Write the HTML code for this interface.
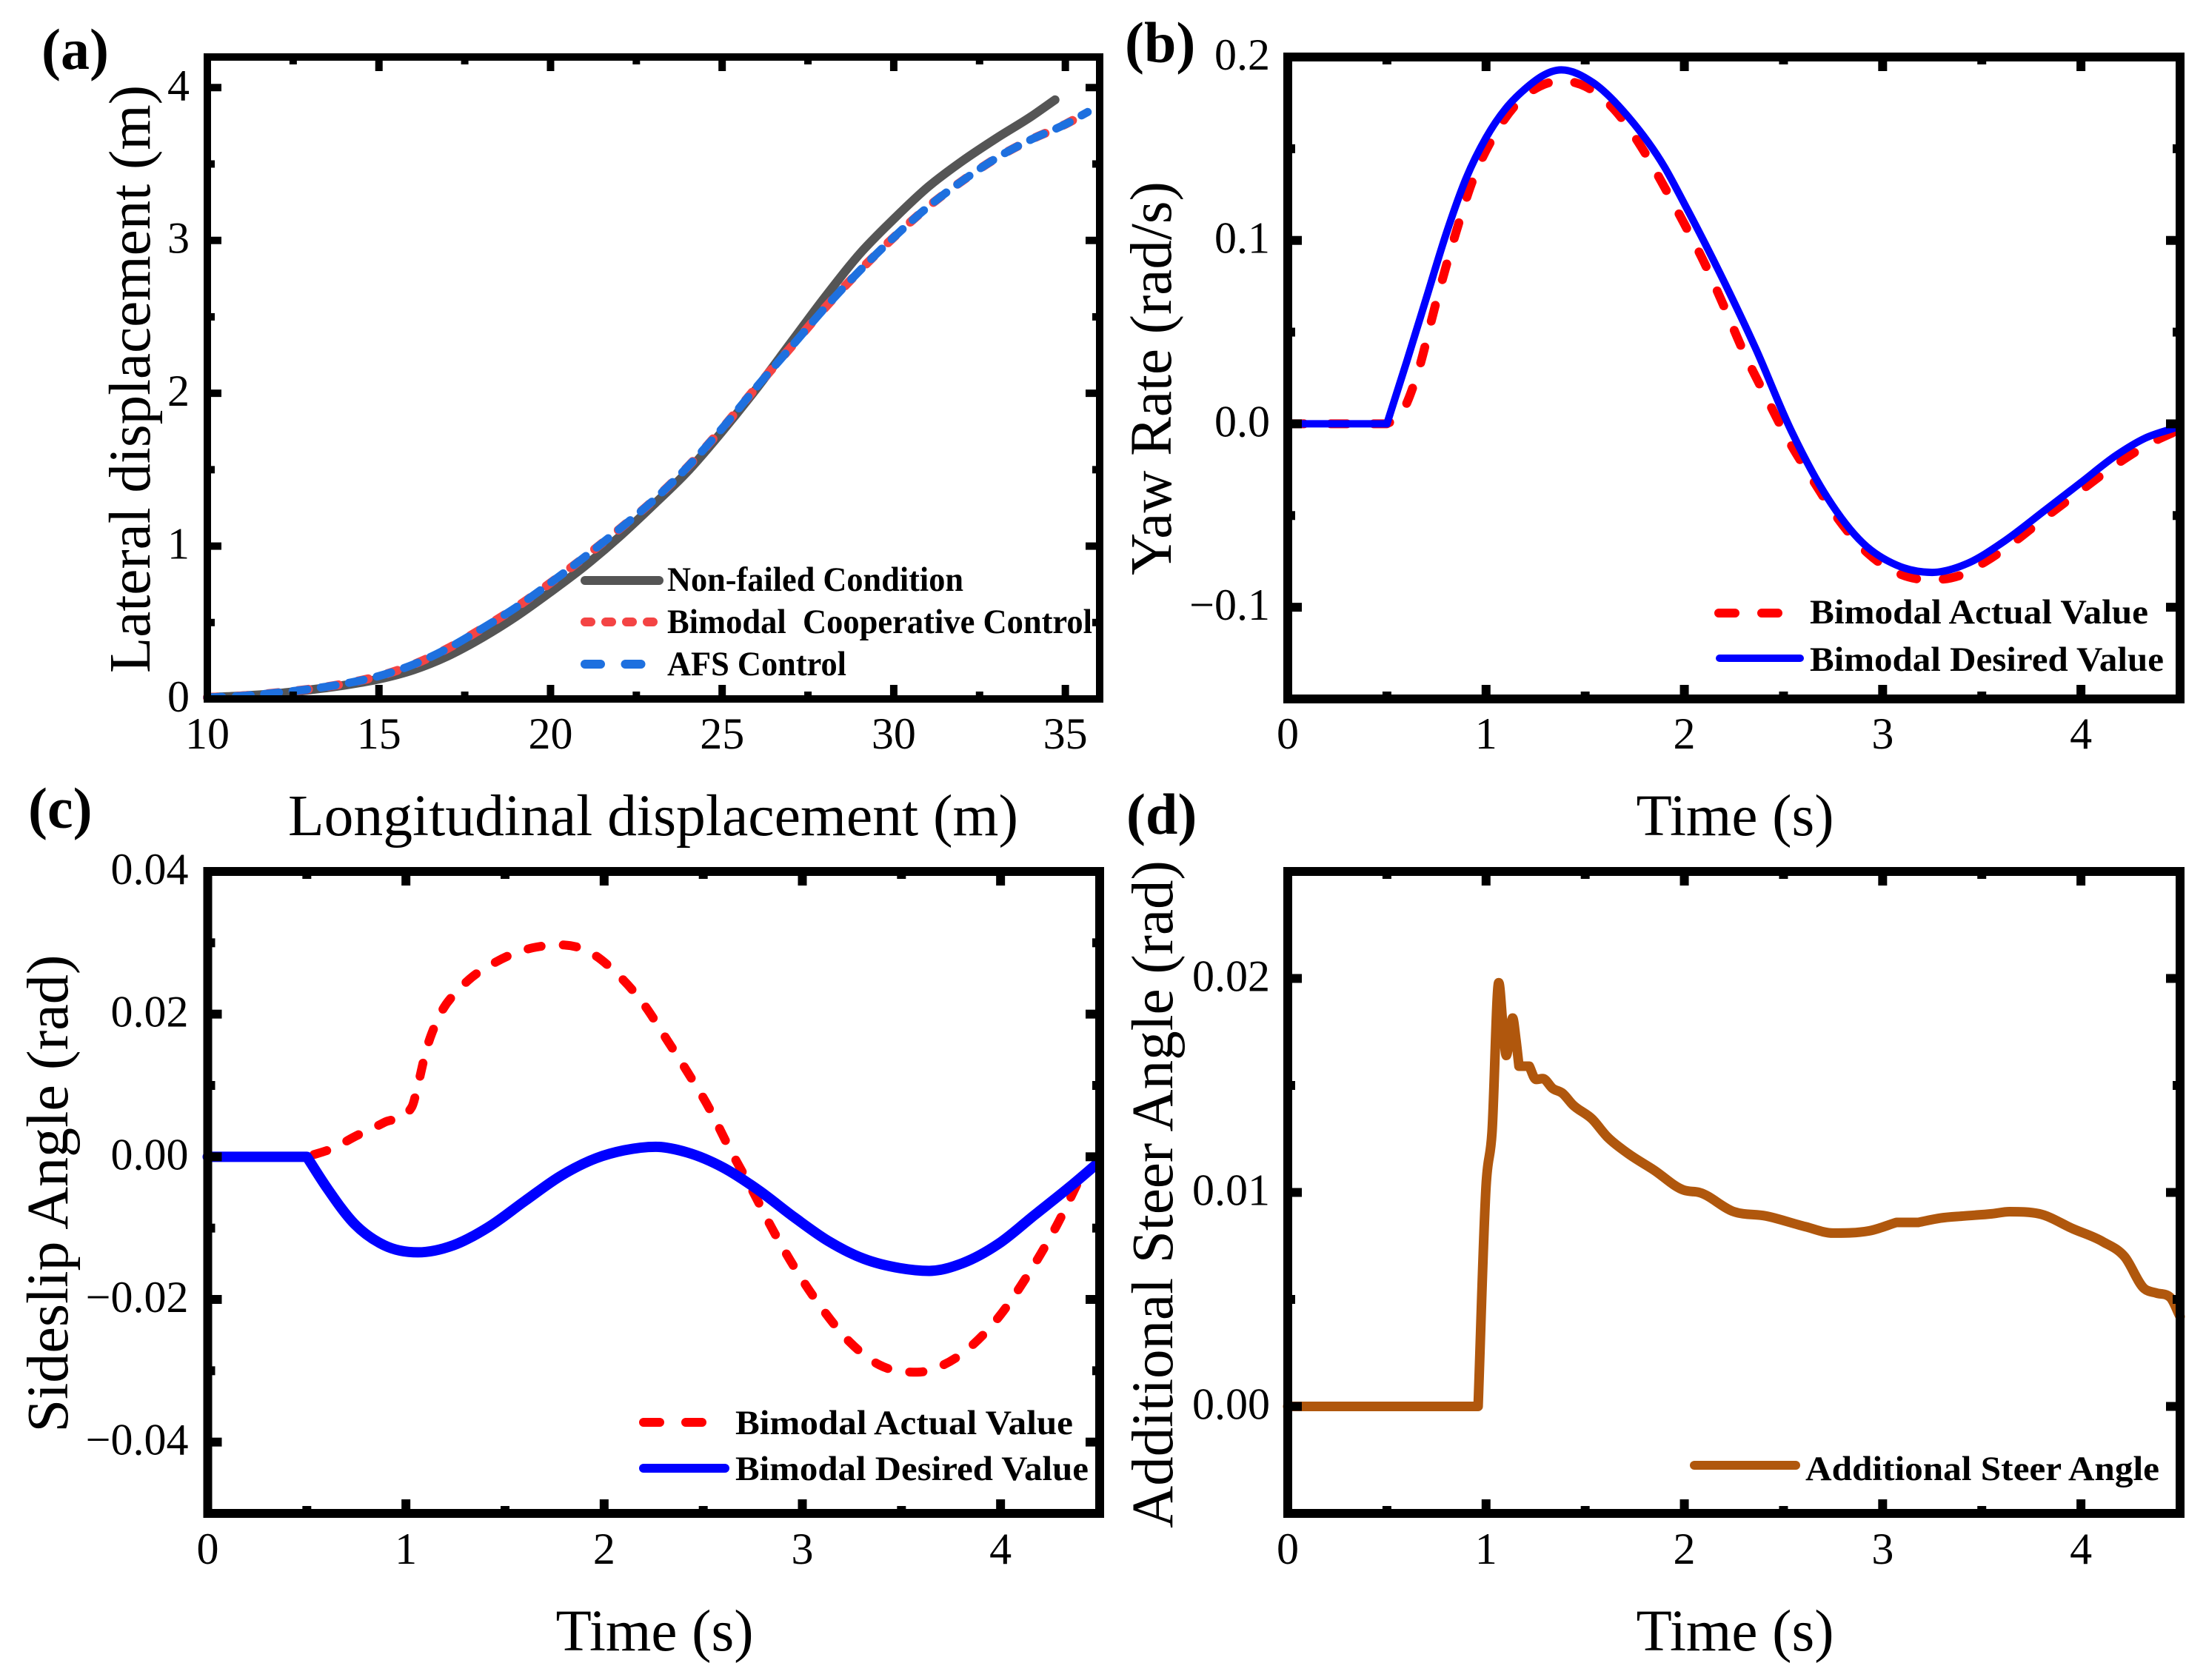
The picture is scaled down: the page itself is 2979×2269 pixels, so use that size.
<!DOCTYPE html>
<html lang="en">
<head>
<meta charset="utf-8">
<title>Bimodal Cooperative Control Results</title>
<style>
html,body{margin:0;padding:0;background:#fff;}
svg{display:block;}
text{font-family:"Liberation Serif",serif;fill:#000;}
.title{font-size:79px;}
.tick{font-size:60px;}
.legend{font-size:47px;font-weight:700;white-space:pre;}
.tag{font-size:78px;font-weight:700;}
</style>
</head>
<body>
<svg id="fig" xmlns="http://www.w3.org/2000/svg" width="2979" height="2269" viewBox="0 0 2979 2269">
<rect x="0" y="0" width="2979" height="2269" fill="#fff"/>
<g id="panel-a"></g>
<g id="panel-b"></g>
<g id="panel-c"></g>
<g id="panel-d"></g>

<text class="tag" x="56" y="93">(a)</text>
<text class="tag" x="1519" y="84">(b)</text>
<text class="tag" x="38" y="1118">(c)</text>
<text class="tag" x="1521" y="1126">(d)</text>

<text class="title" x="882" y="1128" text-anchor="middle" textLength="986" lengthAdjust="spacingAndGlyphs">Longitudinal displacement (m)</text>
<text class="title" x="2343" y="1128" text-anchor="middle">Time (s)</text>
<text class="title" x="884" y="2229" text-anchor="middle">Time (s)</text>
<text class="title" x="2343" y="2229" text-anchor="middle">Time (s)</text>

<text class="title" transform="translate(202 512) rotate(-90)" text-anchor="middle">Lateral displacement (m)</text>
<text class="title" transform="translate(1581 511) rotate(-90)" text-anchor="middle">Yaw Rate (rad/s)</text>
<text class="title" transform="translate(91 1612) rotate(-90)" text-anchor="middle" textLength="645" lengthAdjust="spacingAndGlyphs">Sideslip Angle (rad)</text>
<text class="title" transform="translate(1583 1613) rotate(-90)" text-anchor="middle">Additional Steer Angle (rad)</text>

<g>
<line x1="790" y1="784" x2="890" y2="784" stroke="#555555" stroke-width="12" stroke-linecap="round"/>
<text class="legend" x="901" y="798" textLength="400" lengthAdjust="spacingAndGlyphs">Non-failed Condition</text>
<line x1="790" y1="840" x2="884" y2="840" stroke="#f44444" stroke-width="12" stroke-linecap="round" stroke-dasharray="8 20"/>
<text class="legend" x="901" y="855" textLength="574" lengthAdjust="spacingAndGlyphs">Bimodal  Cooperative Control</text>
<line x1="790" y1="897" x2="866" y2="897" stroke="#1e70df" stroke-width="12" stroke-linecap="round" stroke-dasharray="21 33.5"/>
<text class="legend" x="901" y="912" textLength="242" lengthAdjust="spacingAndGlyphs">AFS Control</text>
</g>

<g>
<line x1="2321" y1="828" x2="2407" y2="828" stroke="#ff0000" stroke-width="12" stroke-linecap="round" stroke-dasharray="22 36"/>
<text class="legend" x="2444" y="842" textLength="457" lengthAdjust="spacingAndGlyphs">Bimodal Actual Value</text>
<line x1="2322" y1="889" x2="2431" y2="889" stroke="#0000ff" stroke-width="10" stroke-linecap="round"/>
<text class="legend" x="2444" y="906" textLength="478" lengthAdjust="spacingAndGlyphs">Bimodal Desired Value</text>
</g>

<g>
<line x1="869" y1="1921" x2="948" y2="1921" stroke="#ff0000" stroke-width="12" stroke-linecap="round" stroke-dasharray="22 35"/>
<text class="legend" x="993" y="1937" textLength="456" lengthAdjust="spacingAndGlyphs">Bimodal Actual Value</text>
<line x1="869" y1="1983" x2="979" y2="1983" stroke="#0000ff" stroke-width="12" stroke-linecap="round"/>
<text class="legend" x="993" y="1999" textLength="477" lengthAdjust="spacingAndGlyphs">Bimodal Desired Value</text>
</g>

<g>
<line x1="2288" y1="1979" x2="2425" y2="1979" stroke="#b0570d" stroke-width="12" stroke-linecap="round"/>
<text class="legend" x="2438" y="1999" textLength="478" lengthAdjust="spacingAndGlyphs">Additional Steer Angle</text>
</g>
</svg>

<script>
// ---------- Panel (a) data ----------
const aXTickLabels = ['10','15','20','25','30','35'];
const aXMinorTicks = [12.5,17.5,22.5,27.5,32.5];
const aYTickLabels = ['0','1','2','3','4'];
const aYMinorTicks = [0.5,1.5,2.5,3.5];
const nonFailedX = [10,11,12,13,14,15,16,17,18,19,20,21,22,23,24,25,26,27,28,29,30,31,32,33,34,34.7];
const nonFailedY = [0.01,0.02,0.035,0.06,0.09,0.13,0.19,0.28,0.40,0.54,0.70,0.87,1.06,1.27,1.49,1.75,2.03,2.33,2.63,2.91,3.14,3.35,3.52,3.67,3.81,3.92];
const cooperativeX = [10,11,12,13,14,15,16,17,18,19,20,21,22,23,24,25,26,27,28,29,30,31,32,33,34,35,35.65];
const cooperativeY = [0.01,0.02,0.04,0.065,0.10,0.15,0.225,0.33,0.46,0.60,0.76,0.93,1.11,1.30,1.52,1.77,2.04,2.30,2.56,2.80,3.02,3.22,3.39,3.54,3.66,3.76,3.84];
const afsX = [10,11,12,13,14,15,16,17,18,19,20,21,22,23,24,25,26,27,28,29,30,31,32,33,34,35,35.65];
const afsY = [0.01,0.02,0.04,0.065,0.10,0.15,0.225,0.33,0.46,0.60,0.76,0.93,1.11,1.30,1.52,1.77,2.04,2.30,2.56,2.80,3.02,3.22,3.39,3.54,3.66,3.76,3.84];

// ---------- Panel (b) data ----------
const bXTickLabels = ['0','1','2','3','4'];
const bXMinorTicks = [0.5,1.5,2.5,3.5];
const bYTickLabels = ['\u22120.1','0.0','0.1','0.2'];
const bYMinorTicks = [-0.05,0.05,0.15];
const yawActualT = [0,0.5,0.57,0.65,0.75,0.85,0.93,1.04,1.15,1.27,1.38,1.5,1.65,1.8,1.9,2,2.1,2.2,2.3,2.42,2.52,2.65,2.77,2.93,3.09,3.23,3.38,3.52,3.68,3.82,3.98,4.18,4.36,4.48];
const yawActualV = [0,0,0.005,0.026,0.067,0.105,0.132,0.157,0.174,0.184,0.187,0.184,0.171,0.148,0.129,0.109,0.088,0.064,0.039,0.013,-0.008,-0.031,-0.051,-0.071,-0.082,-0.085,-0.083,-0.075,-0.063,-0.051,-0.038,-0.022,-0.010,-0.004];
const yawDesiredT = [0,0.5,0.6,0.7,0.8,0.9,1,1.1,1.18,1.38,1.54,1.72,1.9,2,2.18,2.36,2.54,2.72,2.9,3.07,3.25,3.43,3.6,3.82,4,4.18,4.32,4.48];
const yawDesiredV = [0,0,0.034,0.069,0.104,0.134,0.156,0.172,0.181,0.193,0.186,0.167,0.14,0.12,0.082,0.041,-0.004,-0.04,-0.065,-0.077,-0.081,-0.076,-0.065,-0.047,-0.032,-0.017,-0.008,-0.002];

// ---------- Panel (c) data ----------
const cXTickLabels = ['0','1','2','3','4'];
const cXMinorTicks = [0.5,1.5,2.5,3.5];
const cYTickLabels = ['\u22120.04','\u22120.02','0.00','0.02','0.04'];
const cYMinorTicks = [-0.03,-0.01,0.01,0.03];
const slipActualT = [0,0.5,0.64,0.74,0.89,1.03,1.06,1.1,1.17,1.28,1.46,1.64,1.78,1.92,2.06,2.21,2.31,2.42,2.53,2.63,2.74,2.85,2.96,3.1,3.24,3.39,3.58,3.71,3.85,3.99,4.13,4.28,4.42];
const slipActualV = [0,0,0.0013,0.0028,0.0048,0.007,0.01,0.0147,0.0198,0.0238,0.0274,0.0293,0.0297,0.0288,0.0258,0.021,0.0167,0.0119,0.0068,0.0013,-0.0043,-0.0102,-0.0155,-0.0213,-0.026,-0.0292,-0.0302,-0.0292,-0.0266,-0.0225,-0.0169,-0.0098,-0.0019];
const slipDesiredT = [0,0.5,0.6,0.74,0.89,1.06,1.24,1.42,1.6,1.78,1.96,2.1,2.26,2.42,2.6,2.78,2.96,3.13,3.31,3.49,3.64,3.81,3.99,4.17,4.35,4.49];
const slipDesiredV = [0,0,-0.0043,-0.0094,-0.0124,-0.0134,-0.0124,-0.0098,-0.0062,-0.0027,-0.0002,0.0009,0.0014,0.0006,-0.0015,-0.0047,-0.0085,-0.0118,-0.0143,-0.0156,-0.016,-0.0149,-0.0122,-0.0082,-0.0042,-0.0009];

// ---------- Panel (d) data ----------
const dXTickLabels = ['0','1','2','3','4'];
const dXMinorTicks = [0.5,1.5,2.5,3.5];
const dYTickLabels = ['0.00','0.01','0.02'];
const dYMinorTicks = [0.005,0.015];
const steerT = [0,0.94,0.96,1,1.03,1.064,1.085,1.102,1.118,1.134,1.15,1.166,1.218,1.252,1.286,1.336,1.386,1.436,1.536,1.61,1.71,1.846,2,2.075,2.25,2.41,2.61,2.75,2.93,3.07,3.18,3.29,3.41,3.55,3.64,3.79,3.96,4.11,4.22,4.32,4.38,4.45,4.5];
const steerV = [0,0,0,0.0103,0.0128,0.0198,0.0178,0.0164,0.0172,0.01815,0.0172,0.0159,0.0159,0.01528,0.01532,0.01486,0.01463,0.01411,0.01342,0.01261,0.01186,0.01105,0.0101,0.01,0.0091,0.0089,0.0084,0.0081,0.0082,0.0086,0.0086,0.0088,0.0089,0.009,0.0091,0.009,0.0083,0.0077,0.007,0.0055,0.0053,0.0051,0.0042];

// ---------- Helpers ----------
const SVG_NS = 'http://www.w3.org/2000/svg';
function tickValue(label){ return parseFloat(String(label).replace('\u2212','-')); }
function linear(d0,d1,r0,r1){ return v => r0 + (v-d0)/(d1-d0)*(r1-r0); }
function make(tag, attrs, parent){
  const n = document.createElementNS(SVG_NS, tag);
  for (const k in attrs) n.setAttribute(k, attrs[k]);
  parent.appendChild(n);
  return n;
}
// Smooth cubic through the data: weighted tangents, flat at extrema, true corners where a flat run ends.
function curvePath(px, py){
  const n = px.length, h = [], s = [], mL = [], mR = [];
  for (let i=0;i<n-1;i++){ h.push(px[i+1]-px[i]); s.push((py[i+1]-py[i])/h[i]); }
  mR[0] = s[0]; mL[n-1] = s[n-2];
  for (let i=1;i<n-1;i++){
    const a = s[i-1], b = s[i];
    if (a === 0 || b === 0) { mL[i] = a; mR[i] = b; continue; }
    let m = 0;
    if (a*b > 0) {
      m = (h[i]*a + h[i-1]*b)/(h[i-1]+h[i]);
      const lim = 3*Math.min(Math.abs(a),Math.abs(b));
      if (Math.abs(m) > lim) m = Math.sign(m)*lim;
    }
    mL[i] = m; mR[i] = m;
  }
  let d = 'M'+px[0].toFixed(2)+' '+py[0].toFixed(2);
  for (let i=0;i<n-1;i++){
    const t = h[i]/3;
    d += ' C'+(px[i]+t).toFixed(2)+' '+(py[i]+mR[i]*t).toFixed(2)+' '+(px[i+1]-t).toFixed(2)+' '+(py[i+1]-mL[i+1]*t).toFixed(2)+' '+px[i+1].toFixed(2)+' '+py[i+1].toFixed(2);
  }
  return d;
}

function drawSeries(g, sx, sy, xs, ys, name, style){
  const p = make('path', Object.assign({d: curvePath(xs.map(sx), ys.map(sy)), fill:'none', 'stroke-linecap':'round', 'stroke-linejoin':'round'}, style), g);
  
  
}

function drawAxes(g, box, sx, sy, spec){
  const half = box.w/2;
  const frame = make('rect', {x:box.L, y:box.T, width:box.R-box.L, height:box.B-box.T, fill:'none', stroke:'#000', 'stroke-width':box.w}, g);
  
  

  spec.xLabels.forEach(label => {
    const v = tickValue(label), x = sx(v);
    if (x > box.L + 1 && x < box.R - 1) {
      [[box.B-half, box.B-half-box.major],[box.T+half, box.T+half+box.major]].forEach(e => {
        const t = make('line', {x1:x, x2:x, y1:e[0], y2:e[1], stroke:'#000', 'stroke-width':box.w}, g);
        
        
      });
    }
    const txt = make('text', {x:x, y:box.B+box.labelGap, 'text-anchor':'middle', class:'tick'}, g);
    txt.textContent = label;
    
    
  });
  spec.xMinor.forEach(v => {
    const x = sx(v);
    [[box.B-half, box.B-half-box.minor],[box.T+half, box.T+half+box.minor]].forEach(e => {
      const t = make('line', {x1:x, x2:x, y1:e[0], y2:e[1], stroke:'#000', 'stroke-width':box.w}, g);
      
      
    });
  });
  spec.yLabels.forEach(label => {
    const v = tickValue(label), y = sy(v);
    if (y > box.T + 1 && y < box.B - 1) {
      [[box.L+half, box.L+half+box.major],[box.R-half, box.R-half-box.major]].forEach(e => {
        const t = make('line', {x1:e[0], x2:e[1], y1:y, y2:y, stroke:'#000', 'stroke-width':box.w}, g);
        
        
      });
    }
    const txt = make('text', {x:box.L-box.labelInset, y:y+17, 'text-anchor':'end', class:'tick'}, g);
    txt.textContent = label;
    
    
  });
  spec.yMinor.forEach(v => {
    const y = sy(v);
    [[box.L+half, box.L+half+box.minor],[box.R-half, box.R-half-box.minor]].forEach(e => {
      const t = make('line', {x1:e[0], x2:e[1], y1:y, y2:y, stroke:'#000', 'stroke-width':box.w}, g);
      
      
    });
  });
}

// ---------- Panel (a) ----------
(function(){
  const g = document.getElementById('panel-a');
  const box = {L:280,R:1485,T:77,B:944,w:10,major:14,minor:5,labelGap:67,labelInset:24};
  const sx = linear(10,36,box.L,box.R), sy = linear(0,4.2,box.B,box.T);
  drawSeries(g,sx,sy,nonFailedX,nonFailedY,'non-failed-condition-line',{stroke:'#555555','stroke-width':12});
  drawSeries(g,sx,sy,cooperativeX,cooperativeY,'bimodal-cooperative-control-line',{stroke:'#f44444','stroke-width':12,'stroke-dasharray':'14 27'});
  drawSeries(g,sx,sy,afsX,afsY,'afs-control-line',{stroke:'#1e70df','stroke-width':11,'stroke-dasharray':'20 18.5'});
  drawAxes(g,box,sx,sy,{xLabels:aXTickLabels,xMinor:aXMinorTicks,yLabels:aYTickLabels,yMinor:aYMinorTicks});
})();

// ---------- Panel (b) ----------
(function(){
  const g = document.getElementById('panel-b');
  const box = {L:1739,R:2944,T:77,B:944,w:12,major:13,minor:4,labelGap:67,labelInset:24};
  const sx = linear(0,4.5,box.L,box.R), sy = linear(-0.15,0.2,box.B,box.T);
  drawSeries(g,sx,sy,yawActualT,yawActualV,'yaw-rate-actual-line',{stroke:'#ff0000','stroke-width':12,'stroke-dasharray':'22 36'});
  drawSeries(g,sx,sy,yawDesiredT,yawDesiredV,'yaw-rate-desired-line',{stroke:'#0000ff','stroke-width':10});
  drawAxes(g,box,sx,sy,{xLabels:bXTickLabels,xMinor:bXMinorTicks,yLabels:bYTickLabels,yMinor:bYMinorTicks});
})();

// ---------- Panel (c) ----------
(function(){
  const g = document.getElementById('panel-c');
  const box = {L:280.5,R:1485,T:1177,B:2044,w:12,major:13,minor:4,labelGap:68,labelInset:26};
  const sx = linear(0,4.5,box.L,box.R), sy = linear(-0.05,0.04,box.B,box.T);
  drawSeries(g,sx,sy,slipActualT,slipActualV,'sideslip-actual-line',{stroke:'#ff0000','stroke-width':12,'stroke-dasharray':'18 30'});
  drawSeries(g,sx,sy,slipDesiredT,slipDesiredV,'sideslip-desired-line',{stroke:'#0000ff','stroke-width':14});
  drawAxes(g,box,sx,sy,{xLabels:cXTickLabels,xMinor:cXMinorTicks,yLabels:cYTickLabels,yMinor:cYMinorTicks});
})();

// ---------- Panel (d) ----------
(function(){
  const g = document.getElementById('panel-d');
  const box = {L:1739,R:2944,T:1177,B:2044,w:12,major:13,minor:4,labelGap:68,labelInset:24};
  const sx = linear(0,4.5,box.L,box.R), sy = linear(-0.005,0.025,box.B,box.T);
  drawSeries(g,sx,sy,steerT,steerV,'additional-steer-angle-line',{stroke:'#b0570d','stroke-width':13});
  drawAxes(g,box,sx,sy,{xLabels:dXTickLabels,xMinor:dXMinorTicks,yLabels:dYTickLabels,yMinor:dYMinorTicks});
})();
</script>
</body>
</html>
